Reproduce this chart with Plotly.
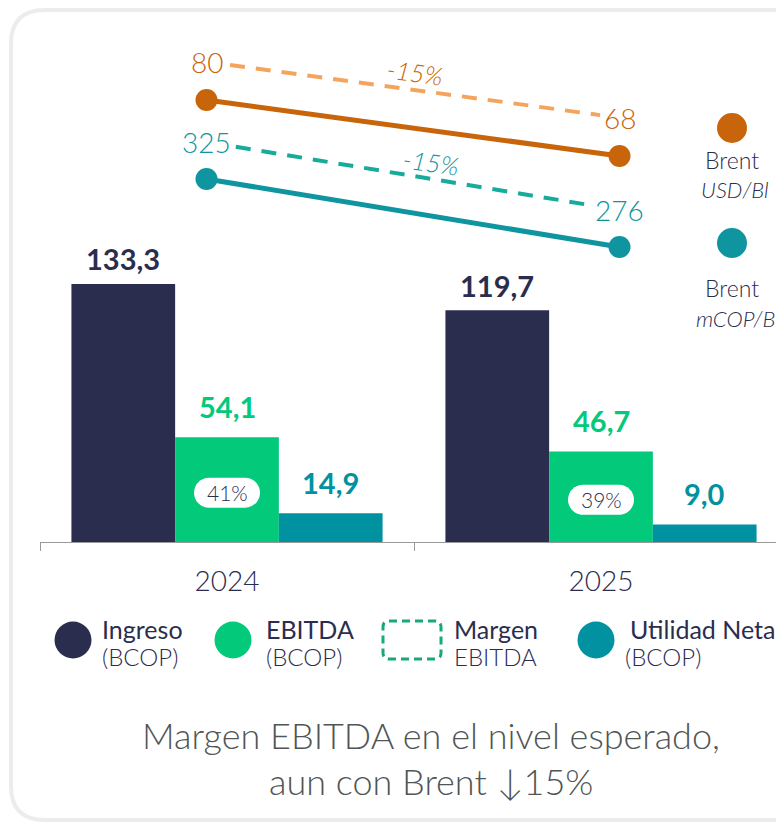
import plotly.graph_objects as go

# ---------------- data ----------------
years = ["2024", "2025"]
ingreso = [133.3, 119.7]
ebitda = [54.1, 46.7]
utilidad = [14.9, 9.0]
brent_usd = [80, 68]
brent_mcop = [325, 276]
series_names = ["Ingreso", "EBITDA", "Utilidad Neta"]
legend_sub = ["(BCOP)", "(BCOP)", "EBITDA", "(BCOP)"]
caption_lines = ["Margen EBITDA en el nivel esperado,", "aun con Brent \u219315%"]

# ---------------- style ----------------
NAVY = "#2b2d4f"
GREEN = "#03c97b"
TEAL_BAR = "#0092a0"
ORANGE = "#c8640a"
ORANGE_L = "#f5a45e"
TEAL = "#0f95a0"
TEAL_L = "#17ab9c"
GREY_TXT = "#505555"
FONT = "Lato"

# reference-space geometry (page has an 8px body margin)
PAGE_OFF = 8
W, H = 784, 826
L, T, BOT = 40, 40, 542          # plot area in reference pixels
BARGAP = 0.168


def px(x):
    return (x - L) / (W - L)


def py(y):
    return (BOT - y) / (BOT - T)


def fmt(v):
    return f"{v:.1f}".replace(".", ",")


fig = go.Figure()

bar_cols = [NAVY, GREEN, TEAL_BAR]
for name, vals, col in zip(series_names, [ingreso, ebitda, utilidad], bar_cols):
    fig.add_trace(go.Bar(x=years, y=vals, name=name, showlegend=False,
                         marker=dict(color=col, line=dict(width=0)),
                         hoverinfo="skip"))

# Brent lines (own axes)
off_usd, off_cop = 8.2, 26.7
fig.add_trace(go.Scatter(x=[0, 1], y=brent_usd, xaxis="x2", yaxis="y2",
                         mode="lines+markers", showlegend=False, hoverinfo="skip",
                         line=dict(color=ORANGE, width=5),
                         marker=dict(size=22, color=ORANGE)))
fig.add_trace(go.Scatter(x=[0, 1], y=brent_mcop, xaxis="x2", yaxis="y3",
                         mode="lines+markers", showlegend=False, hoverinfo="skip",
                         line=dict(color=TEAL, width=5),
                         marker=dict(size=22, color=TEAL)))


def dashed(vals, off, a, b):
    y0, y1 = vals[0] + off, vals[1] + off
    return [a, 1 - b], [y0 + (y1 - y0) * a, y0 + (y1 - y0) * (1 - b)]


dx, dy = dashed(brent_usd, off_usd, 0.057, 0.047)
fig.add_trace(go.Scatter(x=dx, y=dy, xaxis="x2", yaxis="y2", mode="lines",
                         showlegend=False, hoverinfo="skip",
                         line=dict(color=ORANGE_L, width=4, dash="15px,11px")))
dx, dy = dashed(brent_mcop, off_cop, 0.071, 0.071)
fig.add_trace(go.Scatter(x=dx, y=dy, xaxis="x2", yaxis="y3", mode="lines",
                         showlegend=False, hoverinfo="skip",
                         line=dict(color=TEAL_L, width=4, dash="15px,11px")))

ann = []
shapes = []

# bar value labels
bw = (1 - BARGAP) / 3
shifts = [25, 31, 31]
label_cols = [NAVY, GREEN, TEAL_BAR]
for k, vals in enumerate([ingreso, ebitda, utilidad]):
    for i, v in enumerate(vals):
        ann.append(dict(x=i + (k - 1) * bw, y=v, xref="x", yref="y", text=fmt(v),
                        showarrow=False, xanchor="center", yanchor="middle", yshift=shifts[k],
                        font=dict(family=FONT, size=29, color=label_cols[k], weight="bold")))

# EBITDA margin badges
hw, hh, r = 33, 15, 15
kk = 0.5523 * r
dyb = -3
pill = (f"M {-hw + r},{-hh + dyb} L {hw - r},{-hh + dyb} "
        f"C {hw - r + kk},{-hh + dyb} {hw},{-kk + dyb} {hw},{dyb} "
        f"C {hw},{kk + dyb} {hw - r + kk},{hh + dyb} {hw - r},{hh + dyb} "
        f"L {-hw + r},{hh + dyb} "
        f"C {-hw + r - kk},{hh + dyb} {-hw},{kk + dyb} {-hw},{dyb} "
        f"C {-hw},{-kk + dyb} {-hw + r - kk},{-hh + dyb} {-hw + r},{-hh + dyb} Z")
for i, (e, g) in enumerate(zip(ebitda, ingreso)):
    shapes.append(dict(type="path", xref="x", yref="y", xsizemode="pixel", ysizemode="pixel",
                       xanchor=i, yanchor=e / 2, path=pill, fillcolor="white",
                       line=dict(width=0), layer="above"))
    ann.append(dict(x=i, y=e / 2, xref="x", yref="y", text=f"{round(e / g * 100)}%",
                    showarrow=False, xanchor="center", yanchor="middle", yshift=dyb,
                    font=dict(family=FONT, size=21, color=NAVY, weight=300)))

# Brent value labels
for i in range(2):
    ann.append(dict(x=i, y=brent_usd[i], xref="x2", yref="y2", text=str(brent_usd[i]),
                    showarrow=False, xanchor="center", yanchor="middle", yshift=38,
                    font=dict(family=FONT, size=28, color=ORANGE, weight=300)))
    ann.append(dict(x=i, y=brent_mcop[i], xref="x2", yref="y3", text=str(brent_mcop[i]),
                    showarrow=False, xanchor="center", yanchor="middle", yshift=37,
                    font=dict(family=FONT, size=28, color=TEAL, weight=300)))

chg_usd = f"{(brent_usd[1] / brent_usd[0] - 1) * 100:.0f}%"
chg_cop = f"{(brent_mcop[1] / brent_mcop[0] - 1) * 100:.0f}%"
ann.append(dict(x=0.5, y=(brent_usd[0] + brent_usd[1]) / 2 + off_usd, xref="x2", yref="y2",
                text=chg_usd, showarrow=False, textangle=8, yshift=18, xshift=2,
                xanchor="center", yanchor="middle",
                font=dict(family=FONT, size=25, color=ORANGE, style="italic", weight=300)))
ann.append(dict(x=0.5, y=(brent_mcop[0] + brent_mcop[1]) / 2 + off_cop, xref="x2", yref="y3",
                text=chg_cop, showarrow=False, textangle=8, yshift=14, xshift=18,
                xanchor="center", yanchor="middle",
                font=dict(family=FONT, size=25, color=TEAL, style="italic", weight=300)))

# right-side Brent legend
for cy, col, sub, ty1, ty2, sx in [(128, ORANGE, "USD/Bl", 160, 190, 735),
                                   (243, TEAL, "mCOP/Bl", 288, 318, 738)]:
    shapes.append(dict(type="circle", xref="paper", yref="paper",
                       x0=px(717), x1=px(747), y0=py(cy + 15), y1=py(cy - 15),
                       fillcolor=col, line=dict(width=0)))
    ann.append(dict(x=px(732), y=py(ty1), xref="paper", yref="paper", text="Brent",
                    showarrow=False, xanchor="center", yanchor="middle",
                    font=dict(family=FONT, size=23, color=NAVY, weight=300)))
    ann.append(dict(x=px(sx), y=py(ty2), xref="paper", yref="paper", text=sub,
                    showarrow=False, xanchor="center", yanchor="middle",
                    font=dict(family=FONT, size=22, color=NAVY, style="italic", weight=300)))

# bottom legend
leg_x = [(73, 100), (233, 264), (411, 452), (596, 628)]
for j, (mx, tx) in enumerate(leg_x):
    if j == 2:
        x0, x1, y0, y1, rr = 383, 441, 621, 659, 6
        pth = (f"M {px(x0 + rr)},{py(y0)} L {px(x1 - rr)},{py(y0)} Q {px(x1)},{py(y0)} {px(x1)},{py(y0 + rr)} "
               f"L {px(x1)},{py(y1 - rr)} Q {px(x1)},{py(y1)} {px(x1 - rr)},{py(y1)} "
               f"L {px(x0 + rr)},{py(y1)} Q {px(x0)},{py(y1)} {px(x0)},{py(y1 - rr)} "
               f"L {px(x0)},{py(y0 + rr)} Q {px(x0)},{py(y0)} {px(x0 + rr)},{py(y0)} Z")
        shapes.append(dict(type="path", xref="paper", yref="paper", path=pth,
                           line=dict(color="#17a979", width=3, dash="8px,5px")))
        title = "Margen"
    else:
        col = [NAVY, GREEN, None, TEAL_BAR][j]
        shapes.append(dict(type="circle", xref="paper", yref="paper",
                           x0=px(mx - 18.5), x1=px(mx + 18.5), y0=py(640 + 18.5), y1=py(640 - 18.5),
                           fillcolor=col, line=dict(width=0)))
        title = series_names[[0, 1, None, 2][j]]
    ann.append(dict(x=px(tx), y=py(629), xref="paper", yref="paper", text=title,
                    xanchor="left", yanchor="middle", showarrow=False,
                    font=dict(family=FONT, size=25, color=NAVY, weight=400)))
    ann.append(dict(x=px(tx - (5 if j == 3 else 0)), y=py(656), xref="paper", yref="paper",
                    text=legend_sub[j], xanchor="left", yanchor="middle", showarrow=False,
                    font=dict(family=FONT, size=24, color=NAVY, weight=300)))

# caption
for line, cy in zip(caption_lines, [735, 781]):
    ann.append(dict(x=px(431), y=py(cy), xref="paper", yref="paper", text=line,
                    showarrow=False, xanchor="center", yanchor="middle",
                    font=dict(family=FONT, size=36, color=GREY_TXT, weight=300)))

# card outline
x0c, y0c, x1c, y1c, rc = 11, 10, 800, 820, 34
card = (f"M {px(x1c)},{py(y0c)} L {px(x0c + rc)},{py(y0c)} Q {px(x0c)},{py(y0c)} {px(x0c)},{py(y0c + rc)} "
        f"L {px(x0c)},{py(y1c - rc)} Q {px(x0c)},{py(y1c)} {px(x0c + rc)},{py(y1c)} L {px(x1c)},{py(y1c)}")
shapes.append(dict(type="path", xref="paper", yref="paper", path=card, layer="below",
                   line=dict(color="#ececec", width=4)))

cat_px = 374
xa2_lo = -(206.5 - L) / 413
xa2_hi = xa2_lo + (W - L) / 413
fig.update_layout(
    width=W - PAGE_OFF, height=H - PAGE_OFF,
    margin=dict(l=L - PAGE_OFF, r=0, t=T - PAGE_OFF, b=H - BOT, pad=0),
    paper_bgcolor="white", plot_bgcolor="rgba(0,0,0,0)",
    barmode="group", bargap=BARGAP, bargroupgap=0,
    showlegend=False,
    font=dict(family=FONT),
    xaxis=dict(type="category", categoryorder="array", categoryarray=years,
               range=[-0.5, -0.5 + (W - L) / cat_px], tickson="boundaries",
               ticks="outside", ticklen=8, tickcolor="#9a9a9a", tickwidth=1,
               showline=True, linecolor="#9a9a9a", linewidth=1,
               showgrid=False, zeroline=False, ticklabelstandoff=14,
               tickfont=dict(family=FONT, size=28, color=NAVY, weight=300)),
    yaxis=dict(range=[0, (BOT - T) / 1.936], visible=False, showgrid=False, zeroline=False),
    xaxis2=dict(overlaying="x", range=[xa2_lo, xa2_hi], visible=False),
    yaxis2=dict(overlaying="y", range=[-14.71, 92.86], visible=False),
    yaxis3=dict(overlaying="y", range=[63.43, 425.15], visible=False),
    annotations=ann,
    shapes=shapes,
)

fig.write_html("out.html", config={"displayModeBar": False})
